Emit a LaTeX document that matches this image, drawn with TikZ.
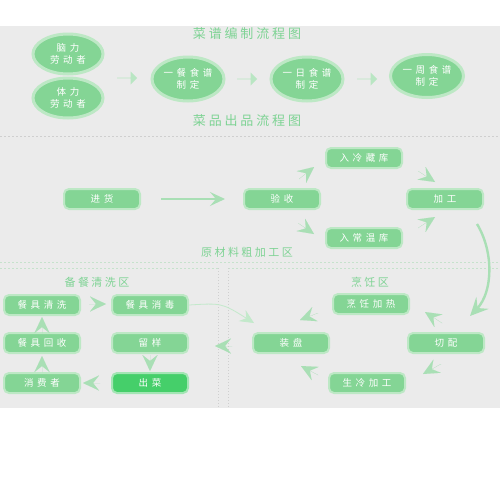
\documentclass[tikz,border=0pt]{standalone}
\usepackage{fontspec}
\newfontfamily\cjk[LetterSpace=38]{Noto Sans CJK SC}
\newfontfamily\cjkt[LetterSpace=22]{Noto Sans CJK SC}
\usetikzlibrary{shapes.geometric,shapes.arrows,arrows.meta}
\definecolor{bggray}{HTML}{EBEBEB}
\definecolor{nodefill}{HTML}{84D595}
\definecolor{nodeedge}{HTML}{BDE8C5}
\definecolor{hotfill}{HTML}{45CF6A}
\definecolor{hotedge}{HTML}{A3E5B4}
\definecolor{titlegreen}{HTML}{7ED394}
\definecolor{chevcol}{HTML}{A9DFB5}
\definecolor{blockcol}{HTML}{B9E6C3}
\definecolor{dashgray}{HTML}{CFCFCF}
\definecolor{dashgreen}{HTML}{C6E2CC}
\tikzset{
  ovalnode/.style={ellipse, fill=nodefill, draw=nodeedge, line width=3pt,
    minimum width=70pt, minimum height=40pt, inner sep=0pt, text=white,
    align=center, font=\cjk\fontsize{9.5}{12}\selectfont},
  boxnode/.style={rectangle, rounded corners=5pt, fill=nodefill, draw=nodeedge,
    line width=2pt, minimum width=76pt, minimum height=20pt, inner sep=0pt,
    text=white, font=\cjk\fontsize{9.5}{10}\selectfont},
  hotnode/.style={boxnode, fill=hotfill, draw=hotedge},
  titletext/.style={text=titlegreen, inner sep=0pt, font=\cjkt\fontsize{13}{15}\selectfont},
  subtitle/.style={text=titlegreen, inner sep=0pt, font=\cjkt\fontsize{11}{13}\selectfont},
  blockarrow/.style={single arrow, fill=blockcol, draw=none, minimum height=20pt,
    minimum width=13pt, single arrow head extend=3pt, inner sep=0pt},
  chev/.style={draw=chevcol, fill=chevcol, line width=0.01pt,
    -{Stealth[length=16pt,width=15pt,inset=6pt]}},
  mainarr/.style={draw=chevcol, line width=1.5pt,
    -{Stealth[length=15pt,width=14pt,inset=6pt]}},
  bigarr/.style={draw=chevcol, line width=2.4pt,
    -{Stealth[length=18pt,width=17pt,inset=7pt]}},
  faintarr/.style={draw=chevcol!70, line width=0.8pt,
    -{Stealth[length=14pt,width=13pt,inset=5pt]}},
  sepline/.style={draw=dashgray, line width=0.6pt, dash pattern=on 2pt off 2pt},
  zoneline/.style={draw=dashgreen, line width=0.6pt, dash pattern=on 2pt off 2pt},
  dotline/.style={draw=dashgray, line width=0.8pt, dash pattern=on 0.8pt off 2.2pt},
}
\begin{document}
\begin{tikzpicture}[x=1pt,y=-1pt]
\useasboundingbox (0,0) rectangle (500,480);
\fill[white] (0,0) rectangle (500,480);
\fill[bggray] (0,26) rectangle (500,408);

% separators
\draw[sepline] (0,136) -- (500,136);
\draw[zoneline] (0,262) -- (500,262);
\draw[zoneline] (0,268) -- (218,268);
\draw[zoneline] (228,268) -- (500,268);
\draw[dotline] (218,268) -- (218,408);
\draw[dotline] (228,268) -- (228,408);

% ---- 菜谱编制流程图 ----
\node[titletext] (t1) at (247,34) {菜谱编制流程图};
\node[ovalnode] (naoli) at (68,54) {脑力\\劳动者};
\node[ovalnode] (tili) at (68,98) {体力\\劳动者};
\node[ovalnode, minimum width=72pt, minimum height=44pt] (yican) at (188,79) {一餐食谱\\制定};
\node[ovalnode, minimum width=72pt, minimum height=44pt] (yiri) at (307,79) {一日食谱\\制定};
\node[ovalnode, minimum width=73pt, minimum height=43pt] (yizhou) at (427,76) {一周食谱\\制定};
\node[blockarrow] (ba1) at (127,78) {};
\node[blockarrow] (ba2) at (247,79) {};
\node[blockarrow] (ba3) at (367,79) {};

% ---- 菜品出品流程图 ----
\node[titletext] (t2) at (247,121) {菜品出品流程图};
\node[boxnode] (jinhuo) at (102,199) {进货};
\node[boxnode] (yanshou) at (282,199) {验收};
\node[boxnode] (lengcang) at (364,158) {入冷藏库};
\node[boxnode] (changwen) at (364,238) {入常温库};
\node[boxnode] (jiagong) at (445,199) {加工};
\draw[mainarr, shorten <=20pt, shorten >=18pt] (jinhuo.east) -- (yanshou.west);

\coordinate (c1s) at (299,179); \coordinate (c1e) at (314,167);
\coordinate (c2s) at (418,171); \coordinate (c2e) at (435,182);
\coordinate (c3s) at (298,223); \coordinate (c3e) at (314,234);
\coordinate (c4s) at (418,228); \coordinate (c4e) at (435,217);
\draw[chev] (c1s) -- (c1e);
\draw[chev] (c2s) -- (c2e);
\draw[chev] (c3s) -- (c3e);
\draw[chev] (c4s) -- (c4e);

\node[subtitle] (t3) at (247,252) {原材料粗加工区};

% ---- 备餐清洗区 ----
\node[subtitle] (t4) at (97,282) {备餐清洗区};
\node[boxnode] (qingxi) at (42,305) {餐具清洗};
\node[boxnode] (xiaodu) at (150,305) {餐具消毒};
\node[boxnode] (huishou) at (42,343) {餐具回收};
\node[boxnode] (liuyang) at (150,343) {留样};
\node[boxnode] (xiaofei) at (42,383) {消费者};
\node[hotnode] (chucai) at (150,383) {出菜};

\coordinate (d1s) at (89,304); \coordinate (d1e) at (106,304);
\coordinate (d2s) at (42,333); \coordinate (d2e) at (42,317);
\coordinate (d3s) at (42,372); \coordinate (d3e) at (42,356);
\coordinate (d4s) at (150,355); \coordinate (d4e) at (150,371);
\coordinate (d5s) at (100,383); \coordinate (d5e) at (83,383);
\coordinate (d6s) at (232,346); \coordinate (d6e) at (215,346);
\draw[chev] (d1s) -- (d1e);
\draw[chev] (d2s) -- (d2e);
\draw[chev] (d3s) -- (d3e);
\draw[chev] (d4s) -- (d4e);
\draw[chev] (d5s) -- (d5e);
\draw[chev] (d6s) -- (d6e);

% ---- 烹饪区 ----
\node[subtitle] (t5) at (370,282) {烹饪区};
\node[boxnode] (jiare) at (371,304) {烹饪加热};
\node[boxnode] (zhuangpan) at (291,343) {装盘};
\node[boxnode] (qiepei) at (446,343) {切配};
\node[boxnode] (shengleng) at (367,383) {生冷加工};

\coordinate (e1s) at (318,313); \coordinate (e1e) at (300,320);
\coordinate (e2s) at (442,323); \coordinate (e2e) at (425,312);
\coordinate (e3s) at (318,375); \coordinate (e3e) at (301,366);
\coordinate (e4s) at (441,364); \coordinate (e4e) at (423,374);
\draw[chev] (e1s) -- (e1e);
\draw[chev] (e2s) -- (e2e);
\draw[chev] (e3s) -- (e3e);
\draw[chev] (e4s) -- (e4e);

% big curved arrow 加工 -> 切配
\coordinate (gs) at (477,224);
\coordinate (ge) at (470,316);
\draw[bigarr] (gs) .. controls (494,252) and (493,292) .. (ge);

% faint arrow 餐具消毒 -> 装盘
\coordinate (fe) at (254,323);
\draw[faintarr] (xiaodu.east) .. controls (222,303) .. (fe);
\end{tikzpicture}
\end{document}
